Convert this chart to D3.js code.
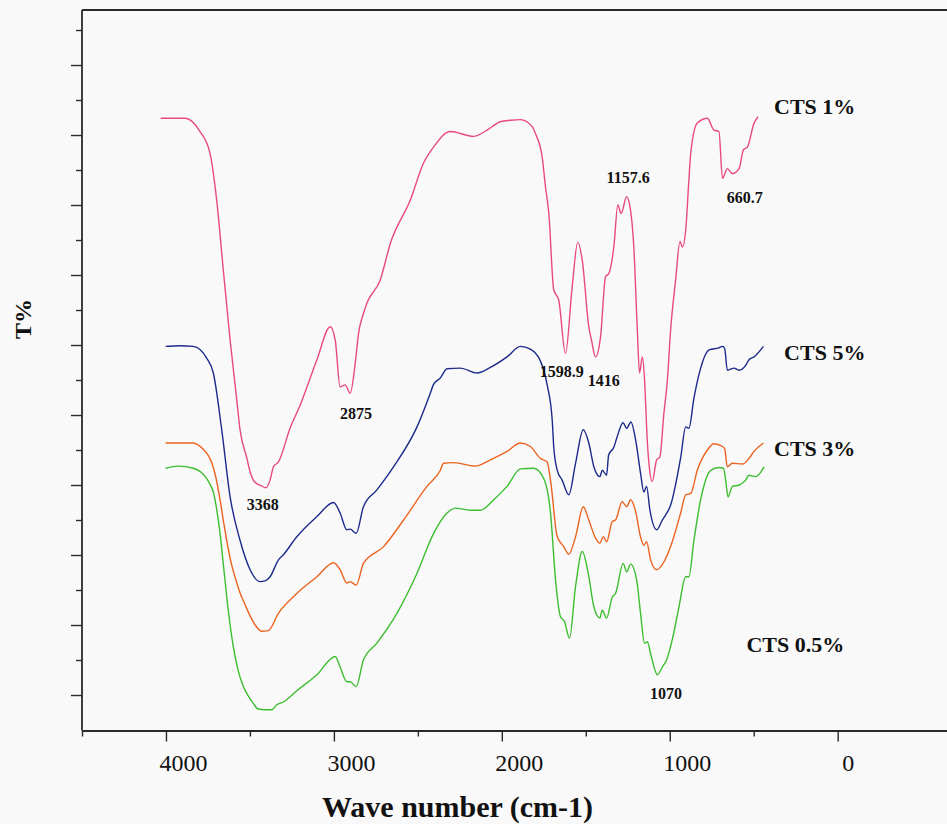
<!DOCTYPE html>
<html>
<head>
<meta charset="utf-8">
<script src="https://cdn.jsdelivr.net/npm/d3@7"></script>
<style>
  html, body { margin: 0; padding: 0; background: #f9f9f9; }
  svg { display: block; }
</style>
</head>
<body>
<svg id="chart" width="947" height="824"></svg>
<script>
// ---- Data (wavenumber cm-1, transmittance in arbitrary T% units) ----
const seriesNames = ["CTS 1%", "CTS 5%", "CTS 3%", "CTS 0.5%"];
const seriesColors = ["#e84a7e", "#1c2a8c", "#ea6420", "#3dbd30"];

const cts1Wn = [4032,3887,3797,3738,3698,3660,3618,3578,3559,3519,3499,3480,3459,3434,3406,3380,3360,3330,3261,3201,3101,3022,2992,2963,2933,2903,2873,2853,2824,2803,2724,2664,2545,2466,2406,2307,2168,2088,2008,1949,1889,1819,1800,1760,1740,1720,1691,1661,1621,1581,1548,1521,1482,1466,1442,1412,1382,1363,1333,1309,1289,1257,1237,1214,1193,1180,1163,1150,1134,1124,1104,1078,1059,1035,1014,995,965,939,925,905,886,875,836,776,737,707,686,657,627,587,561,537,498,474];
const cts1T  = [87.4,87.4,85.5,82.4,75.7,66.1,55.7,47.1,42.9,38.9,36.9,35.7,35.2,34.9,34.6,35.7,37.6,38.3,43.1,46.4,52.9,57.6,55.7,49.0,49.3,48.1,52.4,56.7,59.5,61.0,64.3,69.5,75.7,81.0,83.3,85.5,84.8,85.7,86.9,87.1,87.2,86.2,85.2,81.9,77.6,73.8,62.9,61.4,53.8,63.3,69.7,67.1,57.6,55.7,53.3,56.2,64.8,65.2,69.0,75.0,73.8,76.2,74.8,69.0,57.1,51.0,53.3,50.0,41.4,38.1,35.5,38.6,39.0,45.2,50.0,57.1,64.3,69.8,69.0,71.4,78.6,82.4,86.7,87.4,85.7,85.5,78.8,80.2,79.5,80.2,82.9,83.3,86.7,87.6];

const cts5Wn = [4002,3917,3837,3757,3718,3668,3618,3559,3499,3440,3410,3380,3330,3302,3221,3101,3002,2963,2923,2903,2867,2824,2744,2645,2505,2426,2408,2366,2326,2247,2147,2068,1969,1889,1830,1770,1730,1700,1691,1670,1641,1601,1561,1515,1482,1452,1416,1402,1376,1364,1333,1313,1278,1257,1231,1203,1174,1154,1138,1118,1078,1044,1025,995,935,905,886,856,816,766,707,686,673,657,617,587,548,528,498,442];
const cts5T  = [54.8,54.9,54.8,53.1,51.0,42.9,33.3,27.1,22.9,21.2,21.3,21.9,24.3,25.0,27.6,30.5,32.5,31.0,28.6,28.7,28.1,31.9,34.3,37.6,43.3,48.1,49.3,50.3,51.6,51.7,51.0,51.8,53.3,54.8,54.4,52.7,49.3,44.3,40.5,37.1,35.7,33.6,38.1,42.9,41.0,37.6,36.2,37.1,36.4,39.3,40.4,41.9,43.9,43.1,44.0,41.4,36.7,34.0,34.8,31.4,28.6,30.0,30.7,32.1,38.9,43.3,43.1,47.4,51.7,54.3,54.6,54.8,54.5,51.4,51.7,51.4,52.1,52.9,53.3,54.8];

const cts3Wn = [4002,3837,3778,3750,3726,3702,3678,3654,3630,3607,3583,3559,3529,3499,3469,3429,3390,3330,3221,3101,3002,2963,2923,2903,2867,2824,2704,2585,2446,2366,2347,2287,2158,2068,1969,1889,1830,1770,1730,1710,1670,1631,1601,1561,1515,1482,1442,1416,1396,1376,1342,1323,1283,1257,1233,1203,1174,1154,1138,1114,1078,1035,995,935,905,875,836,776,737,686,673,657,627,567,528,498,442];
const cts3T  = [41.0,41.0,40.1,39.3,38.1,36.0,32.9,29.3,26.0,23.4,21.4,19.6,17.9,16.3,15.0,14.1,14.2,16.7,19.5,21.9,23.9,22.9,21.0,21.2,20.7,23.8,26.2,30.0,34.8,37.1,38.1,38.2,37.7,38.6,39.8,41.0,40.5,38.8,38.3,35.7,27.6,26.2,25.1,27.6,31.9,30.0,27.4,26.7,27.6,26.9,29.8,30.0,32.6,31.9,32.9,31.2,27.6,26.4,26.9,24.3,22.9,24.0,26.2,31.0,33.6,33.8,37.1,40.0,40.9,40.5,40.2,37.6,38.1,38.0,38.8,39.8,41.0];

const cts05Wn = [4002,3929,3837,3757,3738,3718,3702,3678,3658,3638,3618,3599,3571,3539,3511,3480,3451,3410,3370,3340,3301,3221,3101,2992,2963,2923,2903,2867,2824,2744,2624,2505,2406,2326,2277,2187,2128,2048,1969,1889,1810,1750,1710,1680,1651,1627,1597,1561,1521,1482,1452,1416,1402,1376,1342,1323,1277,1257,1233,1197,1174,1150,1134,1110,1074,1044,1019,985,945,905,886,856,816,756,707,680,667,653,627,587,548,528,488,438];
const cts05T  = [37.4,37.7,37.4,35.9,35.1,34.0,32.1,28.1,23.6,19.0,15.0,11.9,8.6,6.2,4.9,3.8,3.0,2.9,2.9,3.6,4.0,5.6,7.9,10.5,9.0,6.9,6.9,6.2,10.0,12.4,16.7,22.4,28.1,31.0,31.7,31.4,31.4,32.9,34.8,37.3,37.4,35.9,31.0,21.4,16.2,15.5,13.1,20.5,25.5,21.9,17.6,16.0,17.1,16.0,19.0,19.5,23.8,22.6,23.7,21.4,16.7,12.4,12.6,10.5,7.9,9.0,10.0,12.9,17.6,21.9,21.9,27.1,32.9,37.1,37.5,37.4,35.7,33.3,34.8,35.0,35.7,36.4,36.2,37.6];

// Peak annotations: text, wavenumber / T anchor (start of text, baseline)
const peakTexts = ["3368", "2875", "1157.6", "660.7", "1598.9", "1416", "1070"];
const peakWn    = [3519, 2963, 1376, 661, 1774, 1488, 1118];
const peakT     = [31.5, 44.5, 78.2, 75.3, 50.5, 49.1, 4.5];

// Series name labels anchor (start of text, baseline)
const nameWn = [379, 319, 379, 543];
const nameT  = [88.0, 52.8, 39.1, 11.1];

// Axis ticks
const xMajorTicks = [4000, 3000, 2000, 1000, 0];
const xMinorTicks = [4500, 3500, 2500, 1500, 500];
const yLongTicks  = [5, 15, 25, 35, 45, 55, 65, 75, 85, 95];
const yShortTicks = [10, 20, 30, 40, 50, 60, 70, 80, 90, 100];

const xTitle = "Wave number (cm-1)";
const yTitle = "T%";

// ---- Layout ----
const svg = d3.select("#chart");
const pL = 82, pR = 947, pT = 10, pB = 730.5;

const x = d3.scaleLinear().domain([4500, -651]).range([pL, pR]);
const y = d3.scaleLinear().domain([0, 102.86]).range([730, pT]);

const serif = "'Liberation Serif', 'Times New Roman', Times, serif";

// Frame (top + left)
svg.append("line").attr("x1", pL).attr("x2", pR).attr("y1", pT).attr("y2", pT)
  .attr("stroke", "#2a2a2a").attr("stroke-width", 1.8);
svg.append("line").attr("x1", pL).attr("x2", pL).attr("y1", pT).attr("y2", pB)
  .attr("stroke", "#2a2a2a").attr("stroke-width", 1.8);

// X axis major
const gx = svg.append("g").attr("transform", `translate(0,${pB})`)
  .call(d3.axisBottom(x).tickValues(xMajorTicks).tickSize(11).tickSizeOuter(0)
    .tickFormat(d => String(d)));
gx.select(".domain").attr("stroke", "#2a2a2a").attr("stroke-width", 1.8);
gx.selectAll(".tick line").attr("stroke", "#2a2a2a").attr("stroke-width", 1.4);
gx.selectAll(".tick text")
  .attr("font-family", serif).attr("font-size", 24).attr("fill", "#111")
  .attr("text-anchor", "start")
  .attr("x", d => String(d).length === 1 ? 4 : -7)
  .attr("y", 40).attr("dy", 0);

// X axis minor
const gxm = svg.append("g").attr("transform", `translate(0,${pB})`)
  .call(d3.axisBottom(x).tickValues(xMinorTicks).tickSize(6).tickSizeOuter(0).tickFormat(""));
gxm.select(".domain").remove();
gxm.selectAll(".tick line").attr("stroke", "#2a2a2a").attr("stroke-width", 1.4);

// Y axis ticks (long and short)
const gyl = svg.append("g").attr("transform", `translate(${pL},0)`)
  .call(d3.axisLeft(y).tickValues(yLongTicks).tickSize(11).tickSizeOuter(0).tickFormat(""));
gyl.select(".domain").remove();
gyl.selectAll(".tick line").attr("stroke", "#2a2a2a").attr("stroke-width", 1.4);
const gys = svg.append("g").attr("transform", `translate(${pL},0)`)
  .call(d3.axisLeft(y).tickValues(yShortTicks).tickSize(6).tickSizeOuter(0).tickFormat(""));
gys.select(".domain").remove();
gys.selectAll(".tick line").attr("stroke", "#2a2a2a").attr("stroke-width", 1.4);

// Axis titles
svg.append("text").attr("x", 322).attr("y", 817)
  .attr("font-family", serif).attr("font-weight", "bold").attr("font-size", 30)
  .attr("fill", "#111").text(xTitle);
svg.append("text")
  .attr("transform", "translate(31,319) rotate(-90)")
  .attr("text-anchor", "middle")
  .attr("font-family", serif).attr("font-weight", "bold").attr("font-size", 24)
  .attr("fill", "#111").text(yTitle);

// Spectra
const seriesWn = [cts1Wn, cts5Wn, cts3Wn, cts05Wn];
const seriesT  = [cts1T, cts5T, cts3T, cts05T];
const line = d3.line().x(d => x(d[0])).y(d => y(d[1])).curve(d3.curveMonotoneX);
seriesWn.forEach((wn, i) => {
  const pts = wn.map((w, j) => [w, seriesT[i][j]]);
  svg.append("path").datum(pts)
    .attr("d", line)
    .attr("fill", "none")
    .attr("stroke", seriesColors[i])
    .attr("stroke-width", 1.4)
    .attr("stroke-linejoin", "round");
});

// Series labels
svg.append("g").selectAll("text").data(seriesNames).join("text")
  .attr("x", (d, i) => x(nameWn[i]))
  .attr("y", (d, i) => y(nameT[i]))
  .attr("font-family", serif).attr("font-weight", "bold").attr("font-size", 22)
  .attr("fill", "#111").text(d => d);

// Peak labels
svg.append("g").selectAll("text").data(peakTexts).join("text")
  .attr("x", (d, i) => x(peakWn[i]))
  .attr("y", (d, i) => y(peakT[i]))
  .attr("font-family", serif).attr("font-weight", "bold").attr("font-size", 16)
  .attr("fill", "#111").text(d => d);
</script>
</body>
</html>
